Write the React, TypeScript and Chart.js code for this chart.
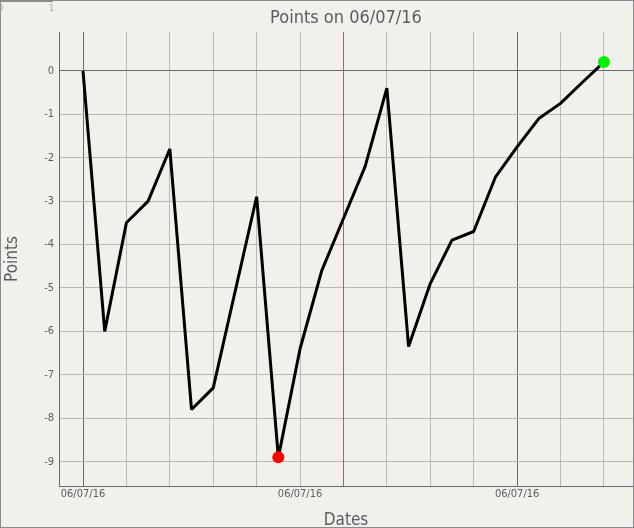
import { useEffect, useRef } from "react";
import { Chart, registerables } from "chart.js";

Chart.register(...registerables);

// data
const dateLabel = "06/07/16";
const chartTitle = `Points on ${dateLabel}`;
const pointValues = [
  0, -6, -3.5, -3, -1.8, -7.8, -7.3, -5.1, -2.9, -8.9, -6.4, -4.6, -3.4,
  -2.2, -0.4, -6.35, -4.9, -3.9, -3.7, -2.45, -1.75, -1.1, -0.75, -0.27, 0.2,
];
const xGridTicks = [0, 2, 4, 6, 8, 10, 12, 14, 16, 18, 20, 22, 24];
const xLabelledTicks = [0, 10, 20];
const xDarkTicks = [0, 20];
const xMarkerTick = 12;
const yTicks = [-9, -8, -7, -6, -5, -4, -3, -2, -1, 0];

const FONT = "'DejaVu Sans Condensed', 'DejaVu Sans', sans-serif";
const BG = "#f1f1ec";
const DARK = "#6a6a6a";
const LIGHT = "#b9b9b6";
const MARKER = "#ec4458";
const TEXT = "#585c62";

// title centred over the plot area, plus the red marker line
const plotExtras = {
  id: "plotExtras",
  beforeDatasetsDraw(chart: any) {
    const { ctx, chartArea, scales } = chart;
    const x = Math.round(scales.x.getPixelForValue(xMarkerTick)) + 0.5;
    ctx.save();
    ctx.strokeStyle = MARKER;
    ctx.lineWidth = 1;
    ctx.beginPath();
    ctx.moveTo(x, chartArea.top);
    ctx.lineTo(x, chartArea.bottom);
    ctx.stroke();
    ctx.restore();
  },
  afterDraw(chart: any) {
    const { ctx, chartArea } = chart;
    ctx.save();
    ctx.font = `18px ${FONT}`;
    ctx.fillStyle = TEXT;
    ctx.textAlign = "center";
    ctx.textBaseline = "middle";
    ctx.fillText(chartTitle, (chartArea.left + chartArea.right) / 2, 17.8);
    ctx.restore();
  },
};

export default function App() {
  const chartRef = useRef<HTMLCanvasElement>(null);
  const chartInstance = useRef<Chart | null>(null);

  useEffect(() => {
    if (!chartRef.current) return;
    if (chartInstance.current) chartInstance.current.destroy();

    const ctx = chartRef.current.getContext("2d");
    if (!ctx) return;

    const minValue = Math.min(...pointValues);
    const minIndex = pointValues.indexOf(minValue);
    const lastIndex = pointValues.length - 1;

    const xGridColors = xGridTicks.map((v) =>
      v === xMarkerTick ? MARKER : xDarkTicks.includes(v) ? DARK : LIGHT
    );
    const yGridColors = yTicks.map((v) => (v === 0 ? DARK : LIGHT));

    chartInstance.current = new Chart(ctx, {
      type: "line",
      data: {
        datasets: [
          {
            data: pointValues.map((v, i) => ({ x: i, y: v })),
            borderColor: "#000000",
            borderWidth: 3,
            borderJoinStyle: "bevel",
            tension: 0,
            pointRadius: pointValues.map((_, i) =>
              i === minIndex || i === lastIndex ? 6 : 0
            ),
            pointBackgroundColor: pointValues.map((_, i) =>
              i === minIndex ? "#ff0000" : "#00ee00"
            ),
            pointBorderWidth: 0,
            pointHoverRadius: 6,
          },
        ],
      },
      options: {
        responsive: true,
        maintainAspectRatio: false,
        animation: false,
        layout: { padding: { top: 31, left: 0, right: 0, bottom: 0 }, autoPadding: false },
        font: { family: FONT },
        plugins: {
          legend: { display: false },
          tooltip: { enabled: false },
          title: { display: false },
        },
        scales: {
          x: {
            type: "linear",
            position: "bottom",
            min: -1.106,
            max: 25.34,
            afterBuildTicks: (scale: any) => {
              scale.ticks = xGridTicks.map((value) => ({ value }));
            },
            afterFit: (scale: any) => {
              scale.height = 41;
            },
            ticks: {
              autoSkip: false,
              maxRotation: 0,
              padding: 2,
              color: TEXT,
              font: { family: FONT, size: 11 },
              callback: (value: any) =>
                xLabelledTicks.includes(Number(value)) ? dateLabel : "",
            },
            grid: {
              drawTicks: false,
              color: xGridColors,
            },
            border: { display: true, color: DARK, width: 1 },
            title: {
              display: true,
              text: "Dates",
              color: TEXT,
              font: { family: FONT, size: 17, lineHeight: 1 },
              padding: { top: 0, bottom: -2 },
            },
          },
          y: {
            type: "linear",
            min: -9.56,
            max: 0.893,
            afterBuildTicks: (scale: any) => {
              scale.ticks = yTicks.map((value) => ({ value }));
            },
            afterFit: (scale: any) => {
              scale.width = 58;
            },
            ticks: {
              padding: 5,
              color: TEXT,
              font: { family: FONT, size: 11 },
            },
            grid: {
              drawTicks: false,
              color: yGridColors,
            },
            border: { display: true, color: DARK, width: 1 },
            title: {
              display: true,
              text: "Points",
              color: TEXT,
              font: { family: FONT, size: 17, lineHeight: 1 },
              padding: { top: 3, bottom: 0 },
            },
          },
        },
      },
      plugins: [plotExtras],
    });

    return () => {
      if (chartInstance.current) {
        chartInstance.current.destroy();
        chartInstance.current = null;
      }
    };
  }, []);

  return (
    <div
      style={{
        position: "fixed",
        left: 0,
        top: 0,
        width: 634,
        height: 528,
        boxSizing: "border-box",
        border: "1px solid #8a8a8a",
        background: BG,
      }}
    >
      {/* stray mini axis in the top-left corner */}
      <div
        style={{
          position: "absolute",
          left: -1,
          top: -1,
          width: 53,
          height: 2,
          background: "#8a8a8a",
        }}
      />
      <span
        style={{
          position: "absolute",
          left: -3,
          top: 2,
          font: `9px ${FONT}`,
          color: "#a8a597",
        }}
      >
        0
      </span>
      <span
        style={{
          position: "absolute",
          left: 48,
          top: 2,
          font: `9px ${FONT}`,
          color: "#a8a597",
        }}
      >
        1
      </span>
      <div style={{ position: "relative", width: 632, height: 526 }}>
        <canvas ref={chartRef} />
      </div>
    </div>
  );
}
